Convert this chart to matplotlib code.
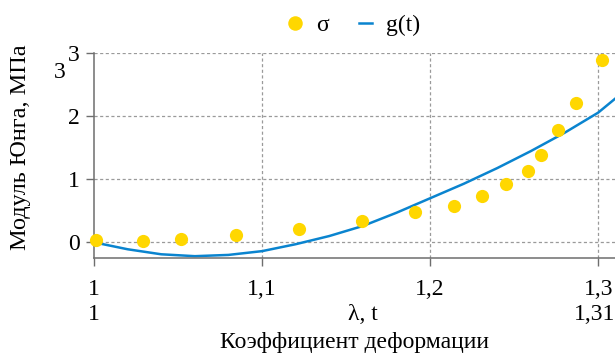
import matplotlib.pyplot as plt
import numpy as np
from matplotlib.ticker import FuncFormatter

plt.rcParams['font.family'] = ['Liberation Serif', 'DejaVu Serif']

# %% data
# sigma points (lambda, MPa)
lam = [1.001, 1.029, 1.052, 1.0845, 1.122, 1.1595, 1.191, 1.214, 1.231,
       1.245, 1.258, 1.266, 1.276, 1.287, 1.302]
sigma = [0.03, 0.02, 0.05, 0.11, 0.21, 0.34, 0.48, 0.58, 0.74,
         0.93, 1.14, 1.39, 1.78, 2.21, 2.90]

# g(t) curve
t_vals = [1.00, 1.02, 1.04, 1.06, 1.08, 1.10, 1.12, 1.14, 1.16, 1.18,
          1.20, 1.22, 1.24, 1.26, 1.28, 1.30, 1.31]
g_vals = [0.00, -0.11, -0.19, -0.22, -0.20, -0.14, -0.03, 0.10, 0.26, 0.47,
          0.70, 0.93, 1.18, 1.45, 1.74, 2.06, 2.28]

x_ticks = [1.0, 1.1, 1.2, 1.3]
y_ticks = [0, 1, 2, 3]

fs = 17

# %% plot
fig = plt.figure(figsize=(6.15, 3.54), dpi=100)
ax = fig.add_axes([0.1528, 0.271, 0.8472, 0.578])

grid_kw = dict(color='#9a9a9a', linestyle=(0, (2.5, 2)), linewidth=0.9, zorder=0)
for x in x_ticks[1:]:
    ax.axvline(x, **grid_kw)
for y in y_ticks:
    ax.axhline(y, **grid_kw)

ax.plot(lam, sigma, 'o', color='#ffd700', markersize=9.5, markeredgewidth=0,
        label='σ', zorder=3, clip_on=False)
ax.plot(t_vals, g_vals, color='#0a84cf', linewidth=1.8, label='g(t)', zorder=2,
        clip_on=False)

ax.set_xlim(1.0, 1.31)
ax.set_ylim(-0.25, 3.0)
ax.set_xticks(x_ticks)
ax.set_yticks(y_ticks)
ax.xaxis.set_major_formatter(FuncFormatter(lambda v, p: f'{v:g}'.replace('.', ',')))

for s in ['top', 'right']:
    ax.spines[s].set_visible(False)
for s in ['left', 'bottom']:
    ax.spines[s].set_color('#6e6e6e')
    ax.spines[s].set_linewidth(1.1)
ax.tick_params(axis='x', length=6, width=1, color='#6e6e6e', pad=9, labelsize=fs)
ax.tick_params(axis='y', length=6, width=1, color='#6e6e6e', pad=4, labelsize=fs)

# second row of x labels
tr = ax.get_xaxis_transform()
ax.text(1.0, -0.278, '1', transform=tr, ha='center', va='center', fontsize=fs)
ax.text(1.16, -0.278, 'λ, t', transform=tr, ha='center', va='center', fontsize=fs)
ax.text(1.31, -0.278, '1,31', transform=tr, ha='right', va='center', fontsize=fs)
ax.text(0.5, -0.415, 'Коэффициент деформации', transform=ax.transAxes,
        ha='center', va='center', fontsize=fs)

ax.set_ylabel('Модуль Юнга, МПа', fontsize=17.5)
ax.yaxis.set_label_coords(-0.121, 0.54)
fig.text(60 / 615, 1 - 72 / 354, '3', ha='center', va='center', fontsize=fs)

ax.legend(loc='center', bbox_to_anchor=(0.5, 1 + (53 - 25) / 204.6), ncol=2,
          frameon=False, fontsize=fs, handlelength=0.55, columnspacing=1.3,
          handletextpad=0.6, borderaxespad=0, markerscale=1.1)

fig.savefig('out.png', dpi=100)
